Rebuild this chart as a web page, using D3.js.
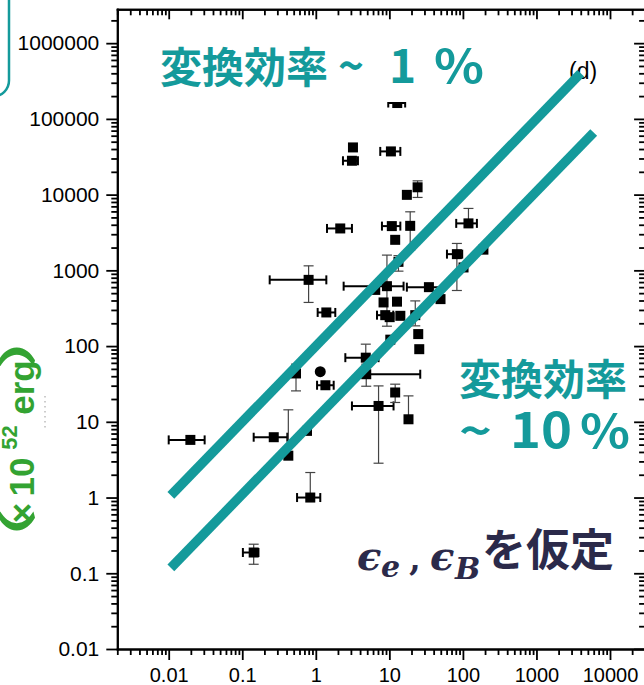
<!DOCTYPE html>
<html><head><meta charset="utf-8">
<script src="https://cdn.jsdelivr.net/npm/d3@7"></script>
<style>body{margin:0;background:#fff}svg{display:block}</style>
</head><body>
<svg id="c" width="644" height="685"></svg>
<script>
// ---------- data ----------
const xTicks = [0.01, 0.1, 1, 10, 100, 1000, 10000];
const xTickLabels = ["0.01", "0.1", "1", "10", "100", "1000", "10000"];
const yTicks = [0.01, 0.1, 1, 10, 100, 1000, 10000, 100000, 1000000];
const yTickLabels = ["0.01", "0.1", "1", "10", "100", "1000", "10000", "100000", "1000000"];

// data points (x, y) with optional error bars (null = none)
const ptX  = [12.8, 3.2, 3.1, 10.5, 24.2, 17.3, 2.15, 10.8, 19.2, 12.0, 13.3, 0.798, 102, 9.27, 6.43, 34.5, 49.6, 1.39, 8.34, 12.7, 8.79, 14.1, 10.1, 22.5, 24.7, 10.3, 25.5, 4.78, 4.85, 0.538, 1.15, 1.35, 7.13, 12.0, 18.2, 0.268, 0.423, 0.759, 0.841, 0.143, 0.0197, 119, 82.8, 190];
const ptY  = [162000, 42000, 28000, 37200, 12500, 9930, 3575, 3840, 3870, 2530, 1295, 749, 1092, 618, 552, 600, 417, 278, 377, 386, 256, 251, 241, 256, 144, 121.6, 91, 70.3, 42.5, 43.5, 45.9, 30.4, 16.2, 24.4, 10.8, 6.26, 3.57, 7.59, 1.0, 0.188, 5.77, 4170, 1637, 1877];
const ptXLo = [9.66, null, 2.34, 7.52, null, null, 1.42, 7.93, null, null, null, 0.236, null, 2.39, null, 17.3, null, 1.06, null, null, 6.79, null, null, null, null, null, null, 2.52, 4.03, null, null, 1.04, 3.1, null, null, 0.143, null, null, 0.556, 0.102, 0.01, 81.1, 60.7, null];
const ptXHi = [16.4, null, 3.74, 14.1, null, null, 3.1, 14.1, null, null, null, 1.39, null, 15.6, null, 54.5, null, 1.84, null, null, 11.3, null, null, null, null, null, null, 7.13, 26.3, null, null, 1.75, 11.4, null, null, 0.41, null, null, 1.15, 0.166, 0.0308, 155, 97.8, null];
const ptYLo = [null, null, null, null, 9180, null, null, null, 1850, null, 976, 377, null, 183, null, null, null, null, null, null, null, null, null, 185, null, null, null, 46.6, 29.5, 25.6, null, null, 2.84, 18.0, null, null, null, null, null, 0.1315, null, null, 542, null];
const ptYHi = [null, null, null, null, 15200, null, null, null, 5930, null, 1563, 1147, null, 1590, null, null, null, null, null, null, null, null, null, 395, null, null, null, 106, 57.7, 57.7, null, null, 29.8, 31.4, 22, null, 14.4, null, 2.14, 0.242, null, 6570, 2266, null];
const ptShape = ptX.map((d, i) => i === 30 ? "circle" : "square");

// efficiency lines (E = 100 x  and  E = 11 x)
const effUpperX = [0.0107, 4000];
const effUpperY = [1.07, 400000];
const effLowerX = [0.0107, 6000];
const effLowerY = [0.118, 66000];

// ---------- drawing ----------
const TEAL = "#149a9b", GREEN = "#33a332", NAVY = "#2b2a4a";
const svg = d3.select("#c");
const x = d3.scaleLog().domain([0.002, 30000]).range([117.3, 645.1]);
const y = d3.scaleLog().domain([0.01, 2.8e6]).range([649, 9.3]);

function minors(lo, hi) {
  const out = [];
  for (let e = -4; e <= 7; e++) for (let k = 2; k <= 9; k++) {
    const v = k * Math.pow(10, e);
    if (v >= lo * 0.999 && v <= hi * 1.001) out.push(v);
  }
  return out;
}
const xMinor = minors(0.002, 30000);
const yMinor = minors(0.01, 2.8e6);

function styleAxis(g) {
  g.select(".domain").attr("stroke", "#000").attr("stroke-width", 2).attr("stroke-linecap", "square");
  g.selectAll(".tick line").attr("stroke", "#000").attr("stroke-width", 1.8);
  g.selectAll("text").attr("font-family", "'Liberation Sans', Arial, sans-serif").attr("fill", "#000");
}

// bottom
svg.append("g").attr("transform", "translate(0,649)")
  .call(d3.axisBottom(x).tickValues(xMinor).tickFormat("").tickSize(6).tickSizeOuter(0)).call(styleAxis);
svg.append("g").attr("transform", "translate(0,649)")
  .call(d3.axisBottom(x).tickValues(xTicks).tickFormat((d, i) => xTickLabels[i]).tickSize(11).tickSizeOuter(0).tickPadding(8)).call(styleAxis)
  .attr("font-size", 20);
// top
svg.append("g").attr("transform", "translate(0,9.3)")
  .call(d3.axisTop(x).tickValues(xMinor).tickFormat("").tickSize(-6).tickSizeOuter(0)).call(styleAxis);
svg.append("g").attr("transform", "translate(0,9.3)")
  .call(d3.axisTop(x).tickValues(xTicks).tickFormat("").tickSize(-10).tickSizeOuter(0)).call(styleAxis);
// left
svg.append("g").attr("transform", "translate(117.3,0)")
  .call(d3.axisLeft(y).tickValues(yMinor).tickFormat("").tickSize(6).tickSizeOuter(0)).call(styleAxis);
svg.append("g").attr("transform", "translate(117.3,0)")
  .call(d3.axisLeft(y).tickValues(yTicks).tickFormat((d, i) => yTickLabels[i]).tickSize(11).tickSizeOuter(0).tickPadding(7)).call(styleAxis)
  .attr("font-size", 21);
// right
svg.append("g").attr("transform", "translate(645.1,0)")
  .call(d3.axisRight(y).tickValues(yMinor).tickFormat("").tickSize(-6).tickSizeOuter(0)).call(styleAxis);
svg.append("g").attr("transform", "translate(645.1,0)")
  .call(d3.axisRight(y).tickValues(yTicks).tickFormat("").tickSize(-11).tickSizeOuter(0)).call(styleAxis);

// error bars
const idx = d3.range(ptX.length);
const eb = svg.append("g");
idx.forEach(i => {
  const cx = x(ptX[i]), cy = y(ptY[i]);
  if (ptXLo[i] !== null) {
    const a = x(ptXLo[i]), b = x(ptXHi[i]);
    eb.append("line").attr("x1", a).attr("x2", b).attr("y1", cy).attr("y2", cy).attr("stroke", "#000").attr("stroke-width", 2);
    [a, b].forEach(v => eb.append("line").attr("x1", v).attr("x2", v).attr("y1", cy - 4.5).attr("y2", cy + 4.5).attr("stroke", "#000").attr("stroke-width", 2));
  }
  const lo = ptYLo[i] !== null ? y(ptYLo[i]) : null;
  const hi = ptYHi[i] !== null ? y(ptYHi[i]) : null;
  if (lo !== null || hi !== null) {
    const y1 = hi !== null ? hi : cy, y2 = lo !== null ? lo : cy;
    eb.append("line").attr("x1", cx).attr("x2", cx).attr("y1", y1).attr("y2", y2).attr("stroke", "#444").attr("stroke-width", 1.2);
    [hi, lo].filter(v => v !== null).forEach(v => eb.append("line").attr("x1", cx - 5).attr("x2", cx + 5).attr("y1", v).attr("y2", v).attr("stroke", "#444").attr("stroke-width", 1.2));
  }
});

// markers
const mk = svg.append("g");
mk.selectAll("rect").data(idx.filter(i => ptShape[i] === "square")).join("rect")
  .attr("x", i => x(ptX[i]) - 5).attr("y", i => y(ptY[i]) - 5).attr("width", 10).attr("height", 10).attr("fill", "#000");
mk.selectAll("circle").data(idx.filter(i => ptShape[i] === "circle")).join("circle")
  .attr("cx", i => x(ptX[i])).attr("cy", i => y(ptY[i])).attr("r", 5.5).attr("fill", "#000");

// (d) label
svg.append("text").attr("x", 569).attr("y", 79).attr("font-family", "'Liberation Sans', Arial, sans-serif")
  .attr("font-size", 23).attr("fill", "#000").text("(d)");

// efficiency lines
const line = d3.line().x(d => x(d[0])).y(d => y(d[1]));
[[effUpperX, effUpperY], [effLowerX, effLowerY]].forEach(([xs, ys]) => {
  svg.append("path").attr("d", line(xs.map((v, i) => [v, ys[i]])))
    .attr("stroke", TEAL).attr("stroke-width", 9.5).attr("fill", "none").attr("stroke-linecap", "butt");
});

// annotation 1 (white box)
svg.append("rect").attr("x", 150).attr("y", 30).attr("width", 350).attr("height", 72).attr("fill", "#fff");
const cjk = "'Noto Sans CJK JP', 'Noto Sans', sans-serif";
function seg(parent, xp, size, str, len) {
  const t = parent.append("tspan").attr("x", xp).attr("font-size", size).text(str);
  if (len) t.attr("textLength", len).attr("lengthAdjust", "spacingAndGlyphs");
  return t;
}
const t1 = svg.append("text").attr("y", 82.5).attr("font-family", cjk).attr("font-weight", 700).attr("fill", TEAL);
seg(t1, 160, 42, "変換効率");
seg(t1, 338, 46, "~", 26);
seg(t1, 389, 46, "1");
seg(t1, 434, 46, "%", 50);

// annotation 2
const t2a = svg.append("text").attr("y", 394.5).attr("font-family", cjk).attr("font-weight", 700).attr("fill", TEAL);
seg(t2a, 459, 42, "変換効率");
const t2 = svg.append("text").attr("y", 448).attr("font-family", cjk).attr("font-weight", 700).attr("fill", TEAL);
seg(t2, 459, 46, "~", 33);
seg(t2, 510, 48, "10", 62);
seg(t2, 580, 46, "%", 50);

// annotation 3
const mathF = "'DejaVu Serif', serif";
function mtext(xp, yp, size, str, fam, style, weight) {
  svg.append("text").attr("x", xp).attr("y", yp).attr("font-family", fam).attr("font-style", style)
    .attr("font-weight", weight).attr("font-size", size).attr("fill", NAVY).text(str);
}
mtext(357, 570, 40, "ϵ", mathF, "italic", 700);
mtext(381, 577, 30, "e", mathF, "italic", 700);
mtext(409, 570, 34, ",", mathF, "normal", 700);
mtext(430, 570, 40, "ϵ", mathF, "italic", 700);
mtext(455, 579, 30, "B", mathF, "italic", 700);
mtext(482, 566, 44, "を仮定", cjk, "normal", 700);

// left green rotated label
function rtext(sy, sx, size, str, fam, sc) {
  svg.append("text").attr("transform", `translate(${sx},${sy}) rotate(-90) scale(${sc || 1},1)`).attr("text-anchor", "middle")
    .attr("font-family", fam).attr("font-weight", 700).attr("font-size", size).attr("fill", GREEN).text(str);
}
const latin = "'Liberation Sans', Arial, sans-serif";
rtext(541, 31, 38, "（", cjk, 1.7);
rtext(513, 33.5, 35, "×", latin);
rtext(477, 33.5, 35, "10", latin);
rtext(437.5, 17, 22, "52", latin);
rtext(387.5, 33.5, 35, "erg", latin);
rtext(337, 31, 38, "）", cjk, 1.7);

// faint mark
svg.append("line").attr("x1", 45).attr("x2", 45).attr("y1", 396).attr("y2", 429)
  .attr("stroke", "#999").attr("stroke-width", 1).attr("stroke-dasharray", "1.5,3.5");

// top-left rounded frame
svg.append("rect").attr("x", -200).attr("y", -30).attr("width", 209).attr("height", 126.5).attr("rx", 16)
  .attr("fill", "none").attr("stroke", TEAL).attr("stroke-width", 2.5);
</script>
</body></html>
